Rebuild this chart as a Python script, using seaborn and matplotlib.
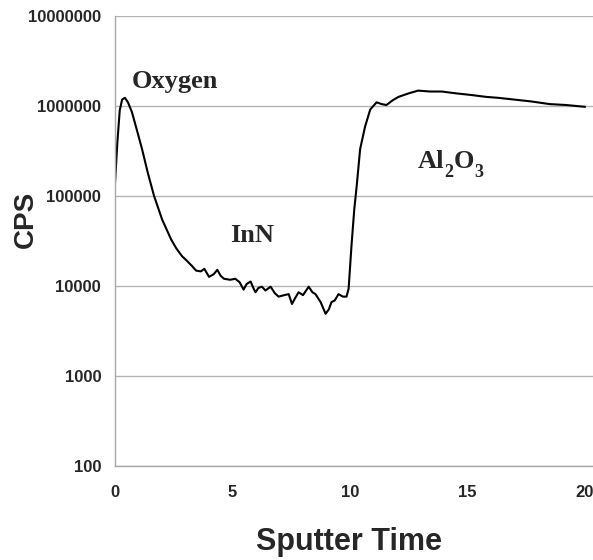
import numpy as np
import pandas as pd
import matplotlib
matplotlib.use("Agg")
import matplotlib.pyplot as plt
import matplotlib.ticker as mticker
from matplotlib.transforms import offset_copy
import seaborn as sns

# ---- data ----
sputter_time = [0.0, 0.1, 0.2, 0.3, 0.42, 0.55, 0.72, 0.9, 1.15, 1.4, 1.66, 2.0, 2.38, 2.6, 2.85,
                3.05, 3.28, 3.45, 3.65, 3.8, 4.0, 4.2, 4.35, 4.5, 4.64, 4.9, 5.12, 5.3, 5.47, 5.6,
                5.77, 5.9, 5.98, 6.1, 6.25, 6.4, 6.62, 6.8, 6.96, 7.2, 7.39, 7.53, 7.65, 7.81, 8.0,
                8.24, 8.4, 8.53, 8.75, 8.96, 9.1, 9.21, 9.35, 9.51, 9.7, 9.85, 9.94, 10.06, 10.18,
                10.28, 10.43, 10.64, 10.86, 11.13, 11.35, 11.55, 11.8, 12.06, 12.5, 12.9, 13.4,
                13.9, 14.5, 15.2, 15.8, 16.3, 17.0, 17.7, 18.5, 19.2, 20.0]
cps = [141000, 398000, 891000, 1175000, 1230000, 1096000, 851000, 575000, 331000, 178000,
       100000, 55000, 33100, 26300, 21400, 19100, 16600, 14800, 14500, 15500, 12600, 13500,
       15100, 12900, 12000, 11700, 12000, 11000, 9100, 10500, 11200, 9300, 8500, 9500, 9800,
       8900, 9800, 8300, 7600, 7900, 8100, 6300, 7200, 8500, 7900, 9800, 8500, 8100, 6600,
       4900, 5500, 6600, 6900, 8100, 7600, 7600, 9300, 27500, 70800, 126000, 331000, 589000,
       912000, 1096000, 1047000, 1023000, 1148000, 1259000, 1380000, 1479000, 1445000,
       1445000, 1380000, 1318000, 1259000, 1230000, 1175000, 1122000, 1047000, 1023000, 977000]

y_ticks = [100, 1000, 10000, 100000, 1000000, 10000000]
x_ticks = [0, 5, 10, 15, 20]
annotations = [("Oxygen", 0.72, 1.58e6), ("InN", 4.9, 3.1e4)]
al2o3_pieces = [("Al", False), ("2", True), ("O", False), ("3", True)]
al2o3_pos = (12.9, 2.05e5)

df = pd.DataFrame({"Sputter Time": sputter_time, "CPS": cps})

sns.set_style("white")
plt.rcParams["font.family"] = ["Liberation Sans", "DejaVu Sans"]

fig = plt.figure(figsize=(5.93, 5.60), dpi=100)
ax = fig.add_axes([0.194, 0.168, 0.806, 0.8036])

sns.lineplot(data=df, x="Sputter Time", y="CPS", ax=ax, color="black", linewidth=1.5,
             estimator=None, sort=False)

ax.set_yscale("log")
ax.set_ylim(100, 10000000)
ax.set_xlim(0, 20.34)
ax.set_yticks(y_ticks)
ax.yaxis.set_major_formatter(mticker.FuncFormatter(lambda v, p: f"{int(round(v))}"))
ax.yaxis.set_minor_locator(mticker.NullLocator())
ax.set_xticks(x_ticks)
ax.set_xticklabels([str(v) for v in x_ticks])

ax.grid(axis="y", color="#b4b4b4", linewidth=1.0)
ax.grid(axis="x", visible=False)
for s in ["top", "right"]:
    ax.spines[s].set_visible(False)
for s in ["left", "bottom"]:
    ax.spines[s].set_color("#a8a8a8")
    ax.spines[s].set_linewidth(1.0)

ax.tick_params(axis="both", which="major", direction="out", length=4, width=1,
               color="#a8a8a8", labelsize=12)
ax.tick_params(axis="y", pad=6)
ax.tick_params(axis="x", pad=10)
for lab in ax.get_xticklabels() + ax.get_yticklabels():
    lab.set_fontweight("bold")

ax.set_xlabel("Sputter Time", fontsize=22, fontweight="bold")
ax.xaxis.set_label_coords(0.49, -0.135)
ax.set_ylabel("CPS", fontsize=20, fontweight="bold")
ax.yaxis.set_label_coords(-0.16, 0.547)

for txt, x, y in annotations:
    ax.text(x, y, txt, fontsize=19, fontweight="bold", fontfamily="Liberation Serif",
            ha="left", va="baseline")

# Al2O3 label built from pieces so subscripts sit low like the reference
renderer = fig.canvas.get_renderer()
dx = 0.0
for s, is_sub in al2o3_pieces:
    tr = offset_copy(ax.transData, fig=fig, x=dx, y=(-9 if is_sub else 0), units="dots")
    t = ax.text(al2o3_pos[0], al2o3_pos[1], s, transform=tr,
                fontsize=(13 if is_sub else 19), fontweight="bold",
                fontfamily="Liberation Serif", ha="left", va="baseline")
    dx += t.get_window_extent(renderer).width

fig.savefig("out.png", dpi=100)
